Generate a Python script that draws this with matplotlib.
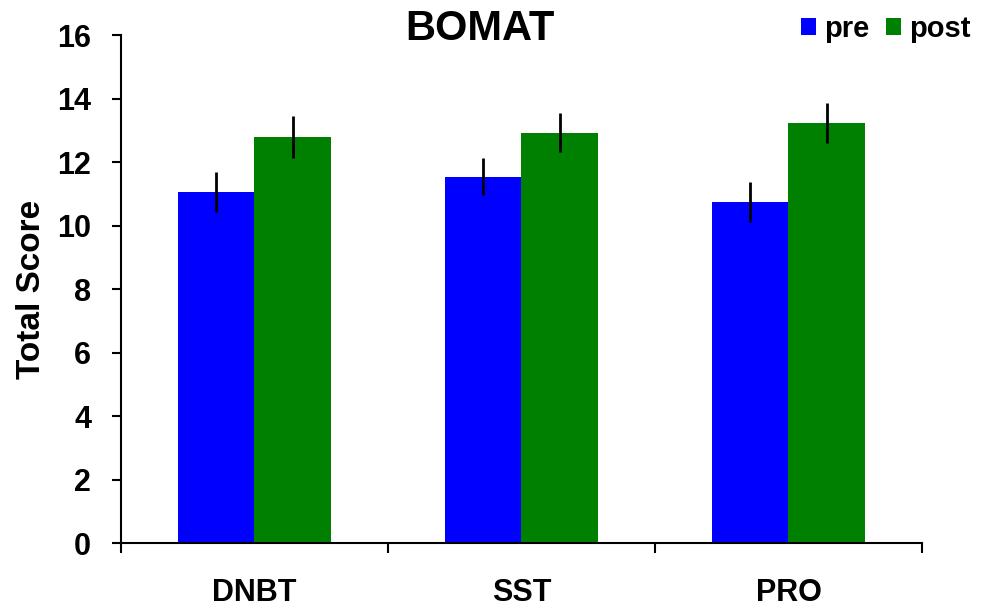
import numpy as np
import matplotlib.pyplot as plt
import matplotlib

params = {'font.family': 'Liberation Sans',
          'font.weight': 'bold',
          'axes.labelweight': 'bold'}
matplotlib.rcParams.update(params)

categories = ['DNBT', 'SST', 'PRO']
pre = [11.06, 11.54, 10.73]
post = [12.80, 12.92, 13.22]
pre_err = [0.63, 0.59, 0.63]
post_err = [0.66, 0.62, 0.63]

fig = plt.figure(figsize=(9.82, 6.08), dpi=100)
ax = fig.add_axes([0.1232, 0.1069, 0.8157, 0.8355])

x = np.arange(len(categories))
w = 0.288
ax.bar(x - w/2, pre, w, color='#0000ff', label='pre')
ax.bar(x + w/2, post, w, color='#008000', label='post')
ax.errorbar(x - w/2, pre, yerr=pre_err, fmt='none', ecolor='black', elinewidth=2, capsize=0)
ax.errorbar(x + w/2, post, yerr=post_err, fmt='none', ecolor='black', elinewidth=2, capsize=0)

ax.set_xlim(-0.5, 2.5)
ax.set_ylim(0, 16)
ax.set_yticks(range(0, 17, 2))
ax.set_xticks([-0.5, 0.5, 1.5, 2.5])
ax.set_xticklabels([])
ax.set_xticks(x, minor=True)
ax.set_xticklabels(categories, minor=True)
ax.tick_params(axis='x', which='minor', length=0, pad=25, labelsize=22)
ax.tick_params(axis='x', which='major', length=7, width=1.5, direction='out')
ax.tick_params(axis='y', length=6.5, width=1.5, direction='out', pad=15, labelsize=22)

for s in ['top', 'right']:
    ax.spines[s].set_visible(False)
for s in ['left', 'bottom']:
    ax.spines[s].set_linewidth(1.5)

ax.set_ylabel('Total Score', fontsize=24, labelpad=7)
fig.text(480/982, 1 - 29/608, 'BOMAT', fontsize=30, fontweight='bold', ha='center', va='center')

fig.legend(loc='upper right', bbox_to_anchor=(1.003, 1.0), ncol=2, frameon=False,
           fontsize=21, handlelength=0.52, handleheight=0.52, handletextpad=0.28,
           columnspacing=0.55, borderpad=0.0)

fig.savefig('out.png', dpi=100)
